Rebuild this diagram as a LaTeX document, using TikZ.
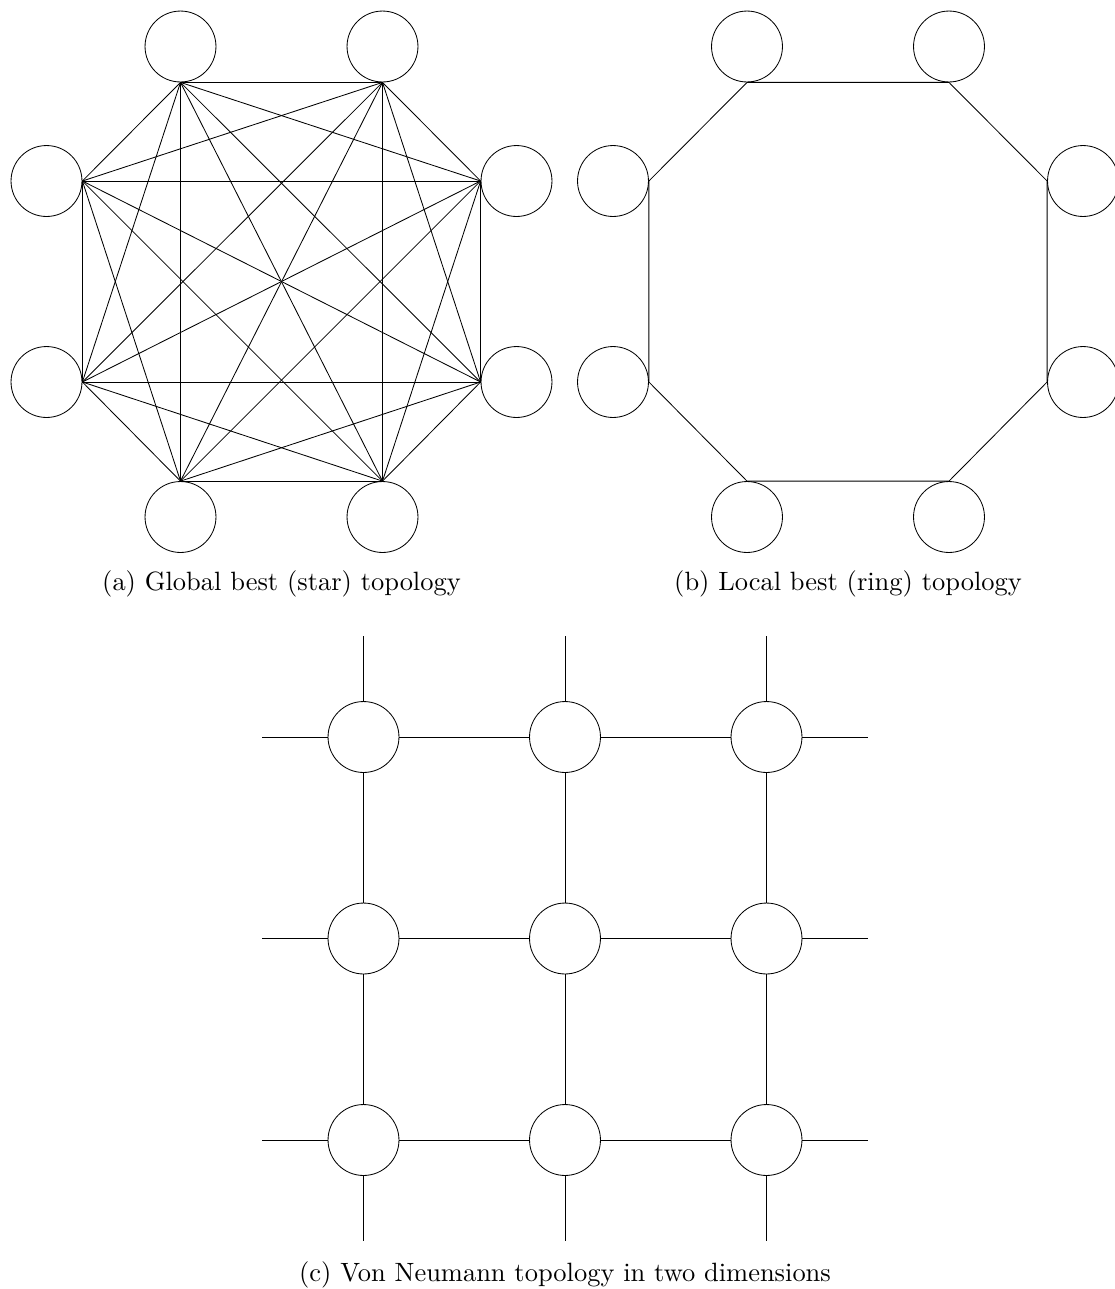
\documentclass[tikz,border=0pt]{standalone}
\usepackage{graphicx}
\usetikzlibrary{calc}
\newcommand{\captext}[1]{\scalebox{1.257}{#1}}
\begin{document}
\begin{tikzpicture}[x=0.475pt,y=-0.475pt,
  particle/.style={circle, draw, minimum size=33.7pt, inner sep=0pt},
  link/.style={draw, line width=0.4pt},
  caption/.style={anchor=base, inner sep=0pt, font=\normalsize}]
\useasboundingbox (0,0) rectangle (1115,1289);

% ---------- (a) fully connected swarm ----------
\begin{scope}
  \node[particle] (a1) at (180.5,46.5) {};
  \node[particle] (a2) at (382.5,46.5) {};
  \node[particle] (a3) at (516.5,181)  {};
  \node[particle] (a4) at (516.5,382)  {};
  \node[particle] (a5) at (382.5,517)  {};
  \node[particle] (a6) at (180.5,517)  {};
  \node[particle] (a7) at (46.5,382)   {};
  \node[particle] (a8) at (46.5,181)   {};
  \coordinate (p1) at (a1.south);
  \coordinate (p2) at (a2.south);
  \coordinate (p3) at (a3.west);
  \coordinate (p4) at (a4.west);
  \coordinate (p5) at (a5.north);
  \coordinate (p6) at (a6.north);
  \coordinate (p7) at (a7.east);
  \coordinate (p8) at (a8.east);
  \foreach \i in {1,...,7}{
    \pgfmathtruncatemacro{\first}{\i+1}
    \foreach \j in {\first,...,8}{
      \draw[link] (p\i) -- (p\j);
    }
  }
  \node[caption] (capa) at (281.5,590) {\captext{(a) Global best (star) topology}};
\end{scope}

% ---------- (b) ring neighbourhood ----------
\begin{scope}
  \node[particle] (b1) at (747,46.5) {};
  \node[particle] (b2) at (949,46.5) {};
  \node[particle] (b3) at (1083,181) {};
  \node[particle] (b4) at (1083,382) {};
  \node[particle] (b5) at (949,517)  {};
  \node[particle] (b6) at (747,517)  {};
  \node[particle] (b7) at (613,382)  {};
  \node[particle] (b8) at (613,181)  {};
  \draw[link] (b1.south) -- (b2.south) -- (b3.west) -- (b4.west)
     -- (b5.north) -- (b6.north) -- (b7.east) -- (b8.east) -- cycle;
  \node[caption] (capb) at (848,590) {\captext{(b) Local best (ring) topology}};
\end{scope}

% ---------- (c) von Neumann lattice ----------
\begin{scope}
  \foreach \c/\x in {1/363.5,2/565,3/766.5}{
    \foreach \r/\y in {1/737,2/938.5,3/1140}{
      \node[particle] (g\r\c) at (\x,\y) {};
    }
    \coordinate (top\c) at (\x,636);
    \coordinate (bot\c) at (\x,1241);
  }
  \foreach \r/\y in {1/737,2/938.5,3/1140}{
    \coordinate (lft\r) at (262,\y);
    \coordinate (rgt\r) at (868,\y);
  }
  % horizontal links
  \foreach \r in {1,2,3}{
    \draw[link] (lft\r) -- (g\r1.west);
    \draw[link] (g\r1.east) -- (g\r2.west);
    \draw[link] (g\r2.east) -- (g\r3.west);
    \draw[link] (g\r3.east) -- (rgt\r);
  }
  % vertical links
  \foreach \c in {1,2,3}{
    \draw[link] (top\c) -- (g1\c.north);
    \draw[link] (g1\c.south) -- (g2\c.north);
    \draw[link] (g2\c.south) -- (g3\c.north);
    \draw[link] (g3\c.south) -- (bot\c);
  }
  \node[caption] (capc) at (565,1281) {\captext{(c) Von Neumann topology in two dimensions}};
\end{scope}
\end{tikzpicture}
\end{document}
